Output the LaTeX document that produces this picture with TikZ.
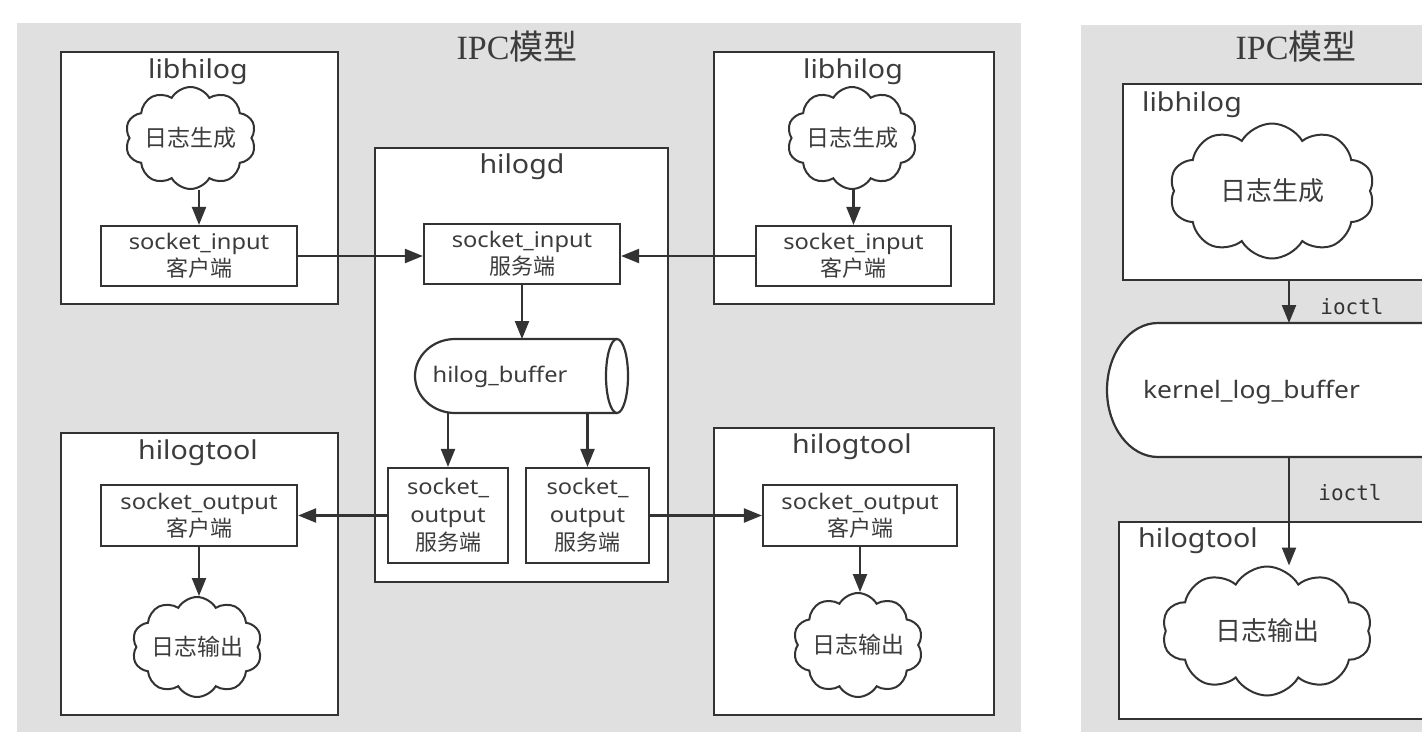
\documentclass[tikz,border=0pt]{standalone}
\usepackage{fontspec}
\setmainfont{Noto Sans}[FakeStretch=1.1]
\newfontfamily\cjk{Noto Sans CJK SC}
\newfontfamily\ipcserif{Liberation Serif}
\newfontfamily\ioctlfont{DejaVu Sans Mono}
\usetikzlibrary{arrows.meta,shapes.symbols}
\definecolor{ln}{HTML}{333333}
\definecolor{tx}{HTML}{3C3C3C}
\definecolor{bg}{HTML}{E0E0E0}
\newcommand\zhs[1]{{\cjk\fontsize{22}{27}\selectfont #1}}
\begin{document}
\begin{tikzpicture}[x=1pt,y=-1pt,
  group/.style={draw=ln, fill=white, line width=2.8pt, inner sep=0pt},
  sbox/.style={draw=ln, fill=white, line width=2.2pt, inner sep=0pt, align=center, text=tx, font=\fontsize{21.5}{27}\selectfont},
  cl/.style={cloud, cloud puffs=10, cloud puff arc=120, cloud ignores aspect, draw=ln, fill=white, line width=2pt, inner sep=0pt, text=tx, font=\cjk\fontsize{23}{27}\selectfont},
  ttl/.style={text=tx, inner sep=0pt, font=\fontsize{26}{30}\selectfont},
  maintitle/.style={text=tx, inner sep=0pt, font=\fontsize{34}{40}\selectfont},
  ioctlstyle/.style={text=ln, inner sep=0pt, font=\ioctlfont\fontsize{21}{24}\selectfont},
  arr/.style={draw=ln, line width=2.2pt, -{Triangle[length=18pt,width=14pt]}}
]
\useasboundingbox (0,0) rectangle (1422,732);
\clip (0,0) rectangle (1422,732);

% ---------- left panel ----------
\fill[bg] (17,23) rectangle (1021,732);
\node[maintitle] (t1) at (517,47) {\ipcserif IPC\cjk 模型};

% top-left libhilog
\node[group, minimum width=277pt, minimum height=252pt] (lib1) at (199.5,178) {};
\node[ttl] (lib1t) at (198,72) {libhilog};
\node[cl, minimum width=131pt, minimum height=102pt] (c1) at (190.5,138) {日志生成};
\node[sbox, minimum width=196pt, minimum height=60pt] (sin1) at (199,256) {socket\_input\\\zhs{客户端}};
\draw[arr] (c1.south -| sin1.north) -- (sin1.north);

% top-right libhilog
\node[group, minimum width=280pt, minimum height=252pt] (lib2) at (854,178) {};
\node[ttl] (lib2t) at (853,72) {libhilog};
\node[cl, minimum width=130pt, minimum height=102pt] (c2) at (852,138) {日志生成};
\node[sbox, minimum width=195pt, minimum height=60pt] (sin2) at (853.5,256) {socket\_input\\\zhs{客户端}};
\draw[arr] (c2.south -| sin2.north) -- (sin2.north);

% hilogd
\node[group, minimum width=293pt, minimum height=434pt] (hd) at (521.5,365) {};
\node[ttl] (hdt) at (522,167) {hilogd};
\node[sbox, minimum width=196pt, minimum height=60pt] (sin) at (522,254) {socket\_input\\\zhs{服务端}};
\fill[white] (617,339) -- (455,339) .. controls (432.9,339) and (415,355.6) .. (415,376)
   .. controls (415,396.4) and (432.9,413) .. (455,413) -- (617,413) -- cycle;
\draw[ln, line width=2.2pt] (617,339) -- (455,339) .. controls (432.9,339) and (415,355.6) .. (415,376)
   .. controls (415,396.4) and (432.9,413) .. (455,413) -- (617,413);
\draw[ln, fill=white, line width=2.2pt] (617,376) ellipse [x radius=11, y radius=37];
\coordinate (bufN) at (522,339);
\coordinate (bufS) at (522,413);
\node[text=tx, inner sep=0pt, font=\fontsize{21.5}{24}\selectfont] (buf) at (500,377) {hilog\_buffer};
\node[sbox, minimum width=120pt, minimum height=95pt, font=\fontsize{21.5}{28}\selectfont] (so1) at (448,515.5) {socket\_\\output\\\zhs{服务端}};
\node[sbox, minimum width=123pt, minimum height=95pt, font=\fontsize{21.5}{28}\selectfont] (so2) at (587.5,515.5) {socket\_\\output\\\zhs{服务端}};
\draw[arr] (sin.south) -- (bufN);
\draw[arr] (so1.north |- bufS) -- (so1.north);
\draw[arr] (so2.north |- bufS) -- (so2.north);

% bottom-left hilogtool
\node[group, minimum width=277pt, minimum height=282pt] (tool1) at (199.5,574) {};
\node[ttl] (tool1t) at (198,453) {hilogtool};
\node[sbox, minimum width=196pt, minimum height=61pt] (so3) at (199,515.5) {socket\_output\\\zhs{客户端}};
\node[cl, minimum width=130pt, minimum height=100pt] (c3) at (197,647) {日志输出};
\draw[arr] (so3.south) -- (so3.south |- c3.north);

% bottom-right hilogtool
\node[group, minimum width=280pt, minimum height=287pt] (tool2) at (854,571.5) {};
\node[ttl] (tool2t) at (852,447) {hilogtool};
\node[sbox, minimum width=194pt, minimum height=61pt] (so4) at (860,515.5) {socket\_output\\\zhs{客户端}};
\node[cl, minimum width=130pt, minimum height=104pt] (c4) at (858,645) {日志输出};
\draw[arr] (so4.south) -- (so4.south |- c4.north);

% horizontal connectors
\draw[arr] (sin1.east) -- (sin1.east -| sin.west);
\draw[arr] (sin2.west) -- (sin2.west -| sin.east);
\draw[arr] (so1.west) -- (so1.west -| so3.east);
\draw[arr] (so2.east) -- (so2.east -| so4.west);

% ---------- right panel ----------
\fill[bg] (1081,25) rectangle (1440,732);
\node[maintitle] (t2) at (1296,47) {\ipcserif IPC\cjk 模型};
\node[group, minimum width=317pt, minimum height=196pt] (rlib) at (1281.5,182) {};
\node[ttl, anchor=west] (rlibt) at (1142,105) {libhilog};
\node[cl, minimum width=205pt, minimum height=135pt, font=\cjk\fontsize{26}{30}\selectfont] (rc1) at (1272,191) {日志生成};
\draw[ln, fill=white, line width=2.2pt] (1440,323) -- (1158,323) .. controls (1129.8,323) and (1107,353) .. (1107,390)
   .. controls (1107,427) and (1129.8,457) .. (1158,457) -- (1440,457);
\node[text=tx, inner sep=0pt, font=\fontsize{24}{28}\selectfont] (kbuf) at (1251.5,392) {kernel\_log\_buffer};
\coordinate (ktop) at (1289,323);
\coordinate (kbot) at (1289,457);
\draw[arr] (rlib.south -| ktop) -- (ktop);
\node[ioctlstyle] (io1) at (1352,307) {ioctl};
\node[group, minimum width=321pt, minimum height=197pt] (rtool) at (1279.5,620.5) {};
\node[ttl, anchor=west] (rtoolt) at (1138,541) {hilogtool};
\node[cl, minimum width=210pt, minimum height=129pt, font=\cjk\fontsize{26}{30}\selectfont] (rc2) at (1267,631) {日志输出};
\draw[arr] (kbot) -- (kbot |- rc2.north);
\node[ioctlstyle] (io2) at (1350,493) {ioctl};
\end{tikzpicture}
\end{document}
